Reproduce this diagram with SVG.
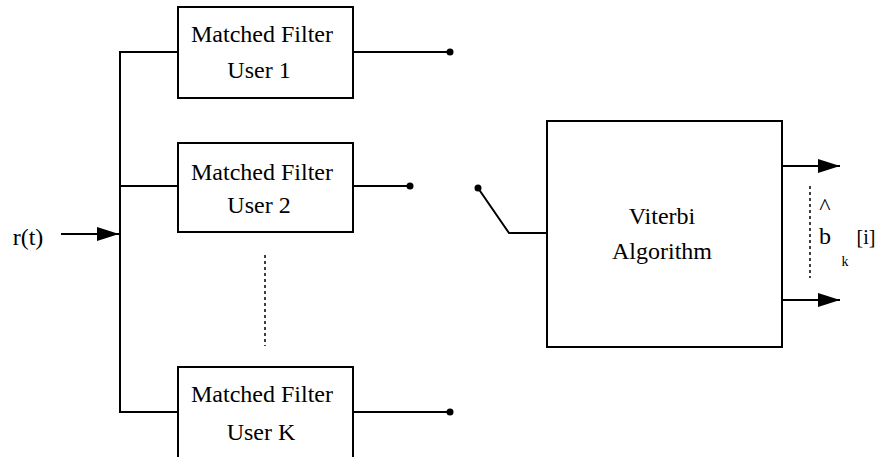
<svg xmlns="http://www.w3.org/2000/svg" width="878" height="457" viewBox="0 0 878 457">
  <style>
    .box { fill: #fff; stroke: #000; stroke-width: 2; }
    .wire { fill: none; stroke: #000; stroke-width: 2; }
    .dots { fill: none; stroke: #000; stroke-width: 1.5; stroke-dasharray: 3 3; }
    .lbl { font-size: 24px; fill: #000; text-anchor: middle; }
    .pin { fill: #000; }
  </style>
  <defs>
    <marker id="arrow" markerWidth="22" markerHeight="14" refX="22" refY="7" orient="auto" markerUnits="userSpaceOnUse">
      <path d="M0,0 L22,7 L0,14 Z" fill="#000"/>
    </marker>
  </defs>

  <rect width="878" height="457" fill="#fff"/>

  <g id="connectors">
    <!-- input and distribution bus -->
    <line class="wire" x1="61" y1="234" x2="119" y2="234" marker-end="url(#arrow)"/>
    <polyline class="wire" points="178,52 120,52 120,412 178,412"/>
    <line class="wire" x1="120" y1="186" x2="178" y2="186"/>
    <!-- filter outputs -->
    <line class="wire" x1="353" y1="52" x2="450" y2="52"/>
    <line class="wire" x1="353" y1="186" x2="410" y2="186"/>
    <line class="wire" x1="353" y1="412" x2="450" y2="412"/>
    <circle class="pin" cx="450" cy="52" r="3.5"/>
    <circle class="pin" cx="410" cy="186" r="3.5"/>
    <circle class="pin" cx="450" cy="412" r="3.5"/>
    <!-- selector switch -->
    <circle class="pin" cx="478" cy="188" r="3.5"/>
    <polyline class="wire" points="478,188 509,233 547,233"/>
    <!-- decoder outputs -->
    <line class="wire" x1="782" y1="166" x2="840" y2="166" marker-end="url(#arrow)"/>
    <line class="wire" x1="782" y1="300" x2="840" y2="300" marker-end="url(#arrow)"/>
    <!-- ellipsis markers -->
    <line class="dots" x1="265" y1="255" x2="265" y2="346"/>
    <line class="dots" x1="810" y1="186" x2="810" y2="278"/>
  </g>

  <g font-family="Liberation Serif, DejaVu Serif, serif">
    <g id="mf1">
      <rect class="box" x="178" y="7" width="175" height="91"/>
      <text class="lbl" x="262" y="42">Matched Filter</text>
      <text class="lbl" x="259" y="78">User 1</text>
    </g>
    <g id="mf2">
      <rect class="box" x="178" y="143" width="175" height="89"/>
      <text class="lbl" x="262" y="180">Matched Filter</text>
      <text class="lbl" x="259" y="213">User 2</text>
    </g>
    <g id="mfk">
      <rect class="box" x="178" y="367" width="175" height="95"/>
      <text class="lbl" x="262" y="402">Matched Filter</text>
      <text class="lbl" x="261" y="440">User K</text>
    </g>
    <g id="viterbi">
      <rect class="box" x="547" y="121" width="235" height="226"/>
      <text class="lbl" x="662" y="224">Viterbi</text>
      <text class="lbl" x="662" y="259">Algorithm</text>
    </g>
    <g id="labels">
      <text class="lbl" x="28" y="245">r(t)</text>
      <!-- estimated bit b-hat sub k [i] -->
      <text class="lbl" x="825" y="214" font-size="22">^</text>
      <text class="lbl"><tspan x="825" y="244">b</tspan><tspan x="845" y="266" font-size="14">k</tspan><tspan x="866" y="244" font-size="20">[i]</tspan></text>
    </g>
  </g>
</svg>
